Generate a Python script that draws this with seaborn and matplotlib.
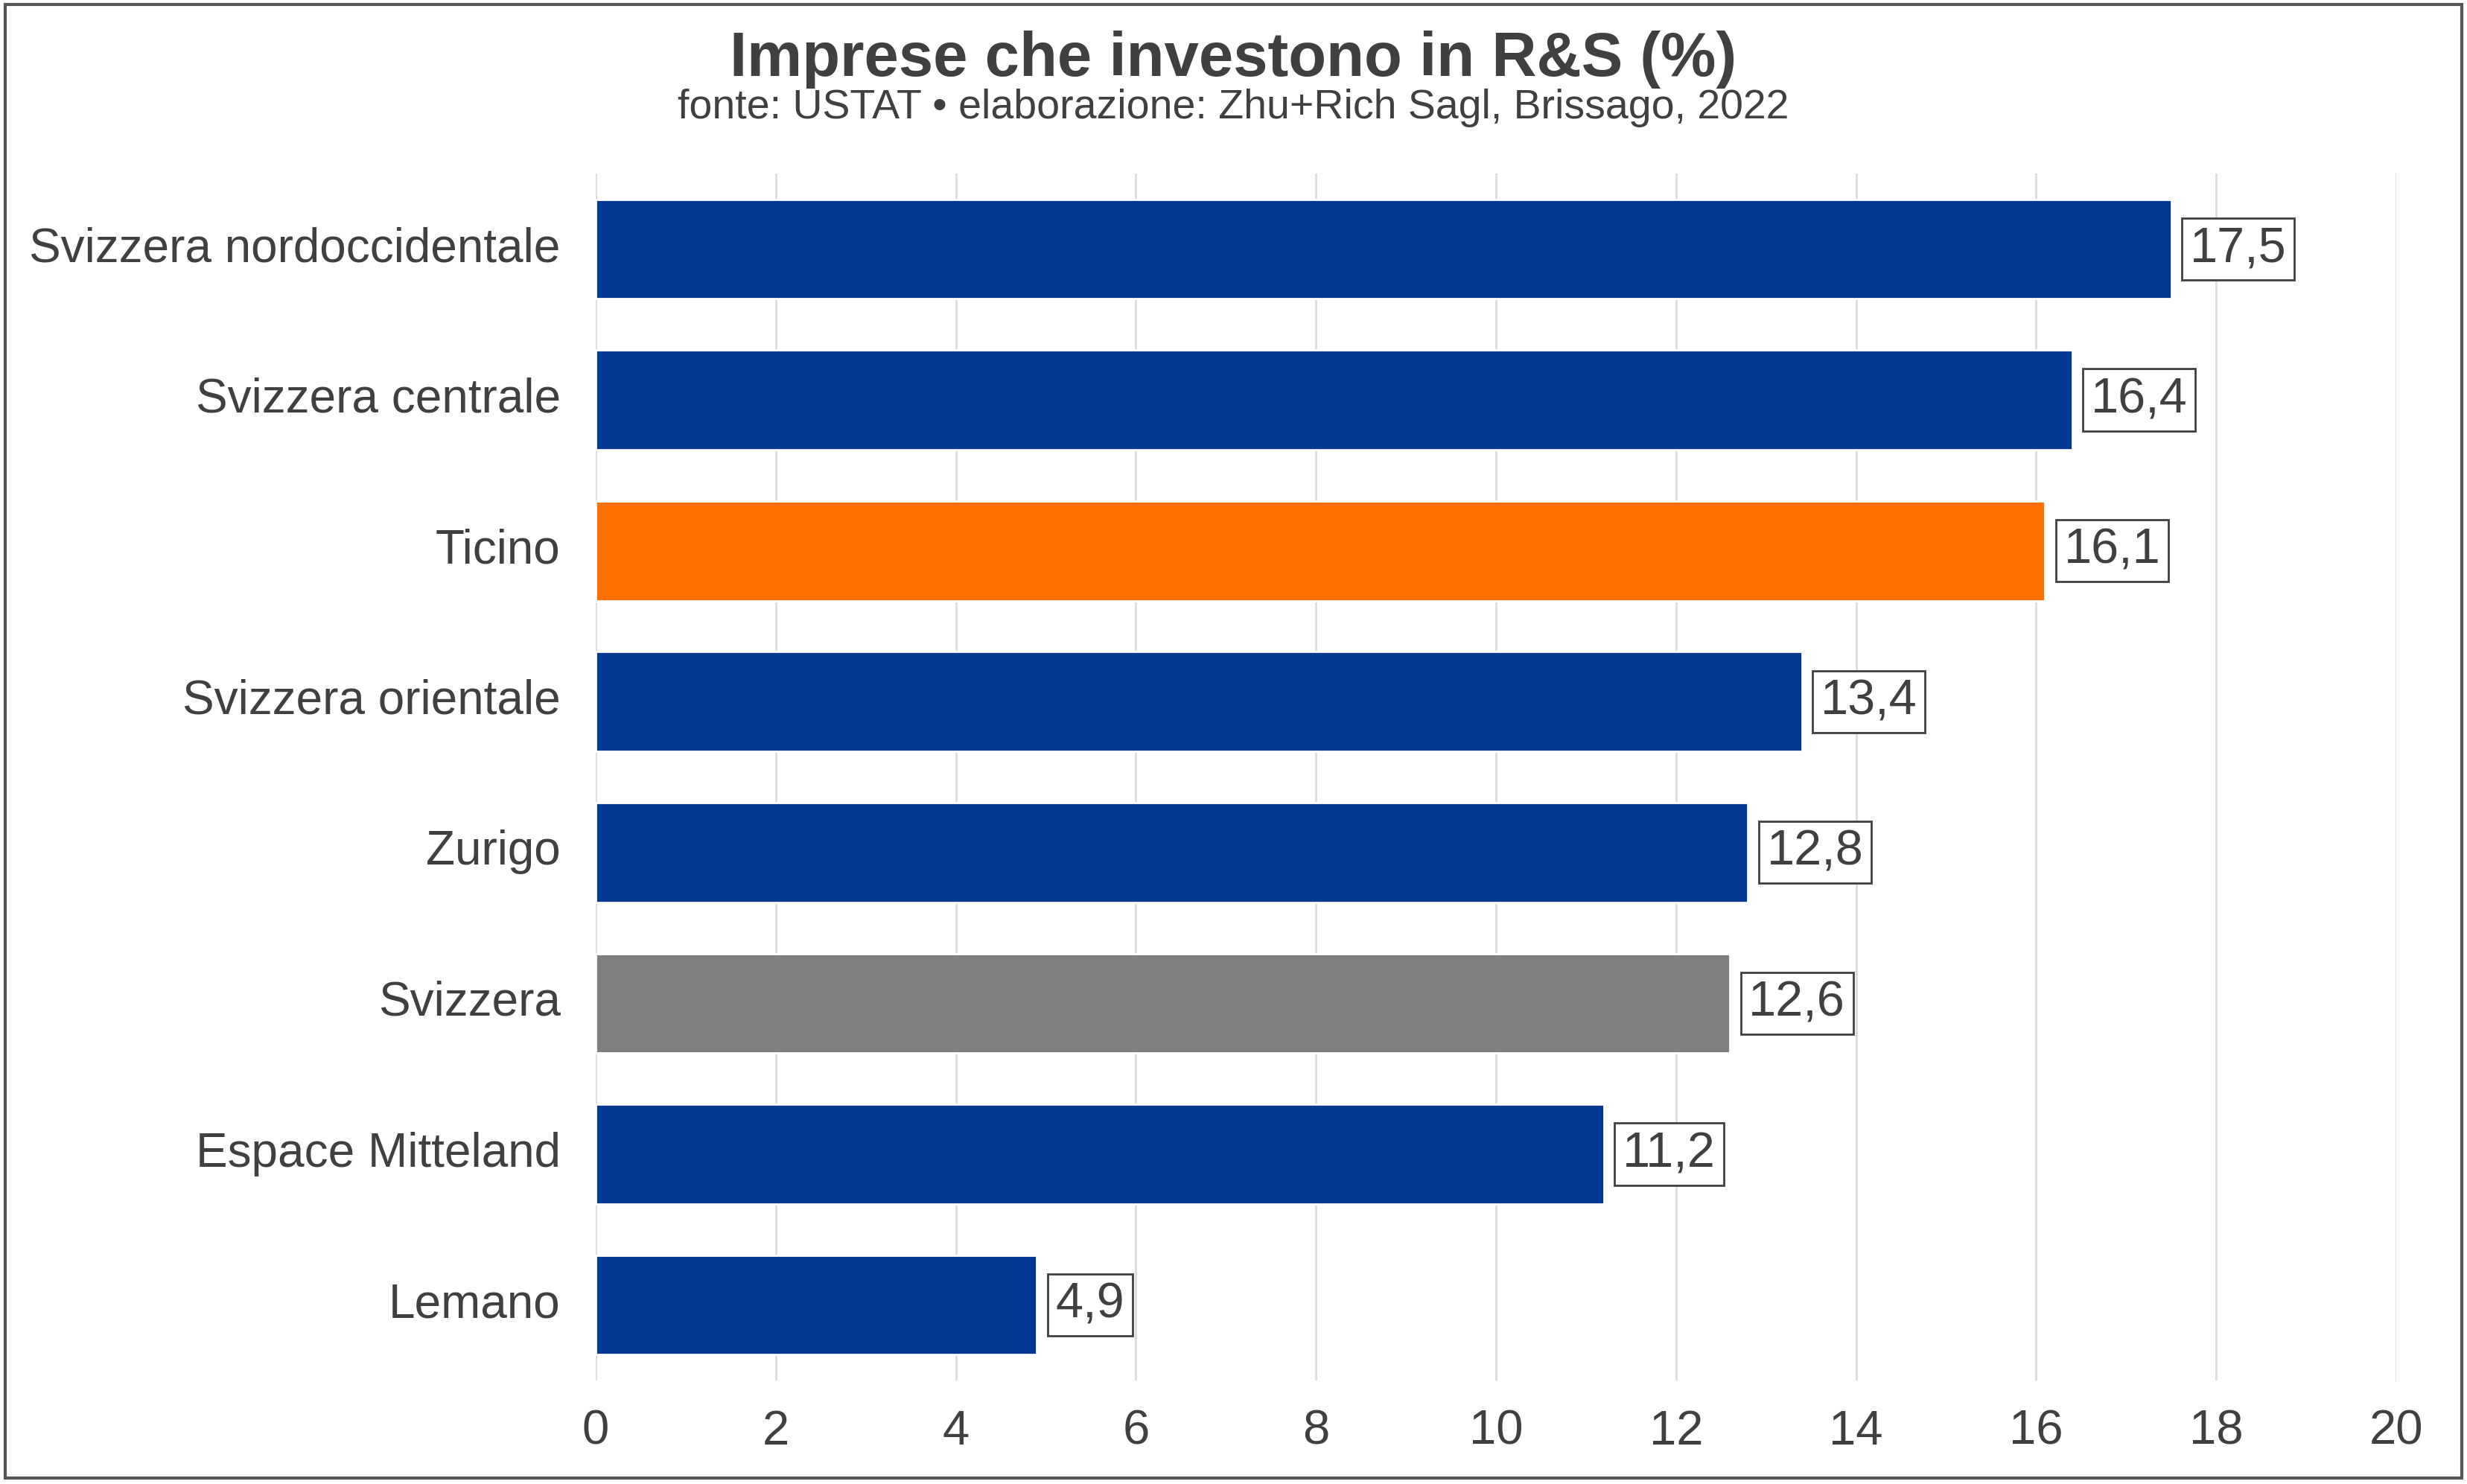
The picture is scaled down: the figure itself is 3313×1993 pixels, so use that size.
import matplotlib
matplotlib.use("Agg")
import matplotlib.pyplot as plt
import matplotlib.transforms as mtransforms
import pandas as pd
import seaborn as sns
from matplotlib.patches import Rectangle

# data
regions = [
    "Svizzera nordoccidentale",
    "Svizzera centrale",
    "Ticino",
    "Svizzera orientale",
    "Zurigo",
    "Svizzera",
    "Espace Mitteland",
    "Lemano",
]
values = [17.5, 16.4, 16.1, 13.4, 12.8, 12.6, 11.2, 4.9]
x_ticks = [0, 2, 4, 6, 8, 10, 12, 14, 16, 18, 20]

BLUE = "#003893"
ORANGE = "#FF7000"
GREY = "#808080"
TEXT = "#404040"

colors = {r: BLUE for r in regions}
colors["Ticino"] = ORANGE
colors["Svizzera"] = GREY

df = pd.DataFrame({"region": regions, "value": values})

sns.set_theme(style="white")
plt.rcParams["font.family"] = ["Liberation Sans", "DejaVu Sans"]

fig = plt.figure(figsize=(16.565, 9.965), dpi=200)
ax = fig.add_axes([0.2415, 0.0698, 0.7298, 0.8132])

sns.barplot(data=df, x="value", y="region", hue="region", palette=colors,
            order=regions, hue_order=regions, width=0.66, legend=False,
            saturation=1, ax=ax, zorder=2)

for i, v in enumerate(values):
    ax.annotate(f"{v:.1f}".replace(".", ","), xy=(v, i), xytext=(9, 0),
                textcoords="offset points", ha="left", va="center",
                fontsize=24, color=TEXT, zorder=4,
                bbox=dict(boxstyle="square,pad=0.16", facecolor="white",
                          edgecolor=TEXT, linewidth=1.0))

ax.set_xlim(0, 20)
ax.set_ylim(7.5, -0.5)
ax.set_xticks(x_ticks)
ax.set_xticklabels([str(t) for t in x_ticks])
ax.xaxis.grid(True, color="#dcdcdc", linewidth=1.0, zorder=0)
ax.yaxis.grid(False)
ax.set_axisbelow(True)
ax.set_xlabel("")
ax.set_ylabel("")
for s in ax.spines.values():
    s.set_visible(False)
ax.tick_params(axis="y", length=0, pad=17, labelsize=23, labelcolor=TEXT)
ax.tick_params(axis="x", length=0, pad=14, labelsize=23.5, labelcolor=TEXT)

# nudge category labels up a little, as in the reference
shift = mtransforms.ScaledTranslation(0, 2.5 / 72, fig.dpi_scale_trans)
for lbl in ax.get_yticklabels():
    lbl.set_transform(lbl.get_transform() + shift)

fig.text(0.5, 0.960, "Imprese che investono in R&S (%)", ha="center",
         va="center", fontsize=30, fontweight="bold", color=TEXT)
fig.text(0.5, 0.927, "fonte: USTAT \u2022 elaborazione: Zhu+Rich Sagl, Brissago, 2022",
         ha="center", va="center", fontsize=20, color=TEXT)

fig.patches.append(Rectangle((0.002, 0.004), 0.996, 0.993, transform=fig.transFigure,
                             fill=False, edgecolor="#555555", linewidth=1.5))

fig.savefig("out.png", dpi=200, facecolor="white")
